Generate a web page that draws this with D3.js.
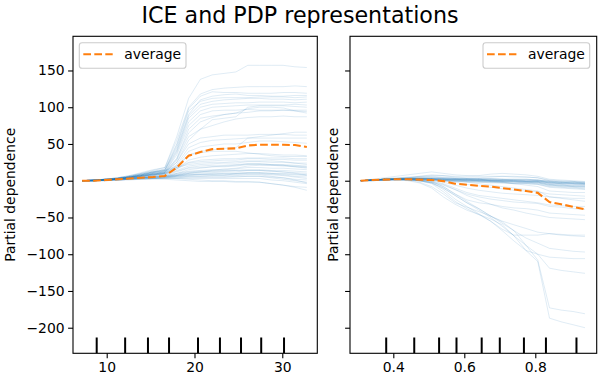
<!DOCTYPE html>
<html><head><meta charset="utf-8">
<script src="https://cdn.jsdelivr.net/npm/d3@7"></script>
<style>body{margin:0;background:#fff}svg{font-family:"DejaVu Sans",sans-serif}</style>
</head><body><svg id="c" width="600" height="380"></svg>
<script>
// ---------- data ----------
const tempGrid = [7.2,8.55,9.89,11.24,12.59,13.94,15.28,16.63,17.98,19.33,20.67,22.02,23.37,24.72,26.06,27.41,28.76,30.11,31.45,32.8];
const humGrid = [0.308,0.341,0.375,0.408,0.441,0.474,0.508,0.541,0.574,0.607,0.641,0.674,0.707,0.740,0.774,0.807,0.840,0.873,0.907,0.940];
const tempAverage = [0,0,1,2,3,4,5,6.5,18,34,39,43,43.5,44,48,49,49,49,48.5,46];
const humAverage = [0,1,1.5,2,2,1.5,1,-0.5,-4,-5.5,-7,-8,-10,-12,-14,-16.5,-29,-32,-35.5,-39];
const tempDeciles = [8.86,12.1,14.7,17.1,20.4,22.9,25.3,27.6,30.2];
const humDeciles = [0.38,0.459,0.529,0.578,0.649,0.700,0.768,0.830,0.916];
const tempTicks = [10,20,30];
const humTicks = [0.4,0.6,0.8];
const yTicks = [-200,-150,-100,-50,0,50,100,150];
const tempIce = [
[0,0,1,3,6,10,14,18,60,112,138,144,146,148,157,157,157,157,155,154],
[0,1,2,4,7,11,15,18,55,100,118,124,126,127,128,128,128,128,129,128],
[0,0,2,4,7,10,13,16,50,98,115,121,120,120,119,119,119,120,120,119],
[0,1,2,3,5,8,12,15,45,90,110,115,117,118,116,116,115,115,116,116],
[0,0,1,3,6,9,12,14,48,95,108,112,113,113,113,114,114,114,113,114],
[0,1,2,4,6,9,12,15,42,88,104,108,110,111,112,112,111,111,110,111],
[0,0,1,3,5,8,11,14,40,85,100,104,105,106,106,107,107,107,106,107],
[0,1,2,3,5,7,10,12,38,80,95,100,101,102,103,103,103,103,104,103],
[0,0,1,2,4,7,10,12,35,75,90,95,96,96,97,96,96,96,96,96],
[0,1,2,3,5,8,11,13,30,65,80,86,90,92,98,100,100,99,95,92],
[0,0,1,3,5,7,9,11,28,60,70,75,80,84,86,87,87,88,87,87],
[0,1,2,3,5,8,10,12,25,55,70,83,85,87,100,102,102,102,101,100],
[0,0,1,2,4,6,9,11,30,70,85,88,90,92,93,95,95,96,95,94],
[0,1,2,3,5,7,9,11,25,50,58,60,62,62,62,63,63,63,62,62],
[0,0,1,2,4,6,8,10,22,45,52,55,56,57,58,58,58,58,58,58],
[0,1,1,2,4,6,8,10,20,40,46,48,50,50,52,54,54,53,52,51],
[0,0,1,2,3,5,7,9,18,35,40,42,44,45,58,60,62,64,66,66],
[0,1,2,3,5,7,9,11,18,25,28,29,30,30,31,31,31,31,30,30],
[0,0,1,3,5,7,9,10,16,24,26,27,28,28,30,30,29,29,28,28],
[0,1,2,3,4,6,8,9,14,20,22,23,24,24,26,26,25,25,24,24],
[0,0,1,2,4,5,7,8,12,17,18,19,19,20,22,22,21,21,20,19],
[0,1,1,2,3,5,6,7,10,13,14,15,15,16,18,18,17,17,16,15],
[0,0,1,2,3,4,5,6,8,10,11,11,12,12,14,14,13,12,11,10],
[0,0,1,1,2,3,4,5,6,7,8,8,8,9,10,10,9,8,6,5],
[0,0,1,1,2,3,3,4,5,5,5,5,5,5,6,6,5,4,2,1],
[0,0,0,1,2,2,3,3,3,3,3,3,3,3,3,3,1,0,-2,-4],
[0,0,0,1,1,2,2,2,1,0,-1,-1,-1,-2,-2,-2,-4,-6,-9,-13],
[0,1,2,4,6,9,12,14,20,35,38,40,40,40,38,36,34,33,33,33],
[0,0,1,2,4,6,8,10,16,28,32,34,35,36,37,37,36,35,35,34],
[0,1,2,3,5,8,11,13,18,22,24,25,25,26,27,27,27,26,24,22],
[0,0,1,2,3,4,5,6,9,12,13,13,14,14,15,15,14,14,13,12],
[0,1,1,2,3,4,5,5,7,9,9,10,10,10,11,11,10,9,8,7],
[0,0,1,2,3,4,5,6,8,11,12,13,13,14,14,14,13,12,10,8],
[0,0,0,1,2,3,3,4,4,5,5,5,5,6,6,6,4,2,0,-2],
[0,1,1,2,3,4,4,5,7,10,12,14,16,17,20,21,21,20,19,18],
[0,0,1,2,3,4,6,7,10,15,17,19,20,21,23,23,22,22,21,20],
[0,0,1,1,2,3,3,4,5,6,6,7,7,7,8,8,6,4,1,-3],
[0,1,1,2,3,4,5,6,7,8,8,8,8,9,9,9,8,7,5,3],
[0,0,1,2,3,4,5,5,6,8,9,9,10,10,11,11,10,10,9,8],
[0,1,2,3,4,6,8,9,13,18,20,21,21,22,23,23,22,21,19,17],
[0,0,1,1,2,2,3,3,3,2,1,0,0,-1,-1,-2,-4,-6,-8,-9]
];
const humIce = [
[0,1,2,3,3,3,3,2,2,1,1,1,0,0,-1,-1,-3,-4,-4,-5],
[0,1,2,2,3,3,2,2,1,1,0,0,-1,-1,-2,-2,-5,-6,-7,-8],
[0,2,4,6,8,10,12,10,8,7,6,6,6,5,5,4,0,-2,-3,-4],
[0,1,3,4,5,6,7,7,6,6,7,9,10,9,8,6,2,1,0,-1],
[0,0,1,1,2,2,1,0,-1,-2,-2,-3,-3,-4,-4,-5,-8,-9,-10,-11],
[0,1,1,2,2,2,2,1,1,0,0,-1,-1,-1,-2,-2,-4,-5,-6,-6],
[0,1,2,3,3,4,4,4,3,3,3,3,2,2,2,1,-1,-2,-2,-3],
[0,0,1,2,2,2,1,1,0,0,-1,-1,-2,-2,-3,-3,-6,-7,-8,-9],
[0,1,2,2,3,3,3,3,2,2,2,2,2,1,1,1,0,-1,-1,-2],
[0,1,1,1,2,1,1,0,0,-1,-1,-2,-2,-3,-3,-4,-7,-8,-9,-10],
[0,1,2,3,4,5,5,4,3,2,2,1,1,1,0,0,-3,-4,-5,-6],
[0,0,1,1,1,1,0,0,-1,-1,-2,-2,-3,-4,-4,-5,-9,-10,-11,-12],
[0,1,2,3,4,4,4,3,3,3,4,5,6,6,5,4,1,0,-1,-2],
[0,1,2,2,2,2,2,1,1,1,0,0,0,-1,-1,-1,-3,-4,-4,-5],
[0,1,1,2,2,2,2,2,1,1,1,0,0,0,-1,-1,-2,-3,-3,-4],
[0,1,2,3,3,3,3,3,2,2,1,1,0,0,-1,-2,-5,-6,-7,-7],
[0,0,1,2,2,2,2,1,1,0,0,-1,-1,-2,-2,-3,-6,-7,-8,-8],
[0,1,2,3,4,6,8,7,5,4,3,3,2,2,2,1,-2,-3,-4,-4],
[0,1,1,2,2,3,3,2,2,1,1,1,1,0,0,0,-2,-2,-3,-3],
[0,1,2,2,3,3,3,2,2,2,2,1,1,1,1,0,-1,-2,-2,-3],
[0,1,2,3,3,2,1,-2,-6,-10,-13,-15,-17,-18,-19,-20,-22,-23,-24,-24],
[0,1,2,2,2,1,0,-4,-10,-16,-20,-22,-24,-26,-28,-30,-33,-34,-35,-35],
[0,1,1,2,2,1,-1,-8,-18,-26,-30,-32,-35,-37,-38,-40,-44,-45,-46,-47],
[0,1,2,3,3,3,2,1,0,-2,-4,-6,-8,-10,-12,-14,-22,-24,-26,-28],
[0,0,1,1,1,0,-2,-6,-12,-18,-22,-25,-27,-29,-30,-31,-35,-36,-38,-39],
[0,1,2,2,3,3,2,0,-2,-5,-7,-9,-11,-13,-14,-15,-18,-19,-20,-21],
[0,1,2,3,4,5,6,5,4,3,2,0,-2,-4,-6,-8,-14,-15,-16,-16],
[0,1,2,2,2,1,-1,-5,-12,-20,-26,-32,-37,-40,-44,-47,-50,-51,-52,-53],
[0,1,2,2,1,0,-4,-15,-28,-38,-46,-55,-66,-74,-74,-74,-72,-73,-74,-74],
[0,1,1,2,1,0,-3,-10,-20,-30,-38,-48,-55,-60,-65,-70,-72,-74,-75,-76],
[0,1,2,2,2,1,-2,-8,-18,-28,-38,-48,-58,-68,-78,-85,-92,-94,-96,-97],
[0,1,2,2,2,0,-3,-12,-25,-35,-45,-55,-68,-82,-95,-100,-104,-105,-106,-106],
[0,1,2,2,1,0,-3,-10,-20,-30,-40,-50,-62,-75,-88,-100,-119,-122,-124,-126],
[0,1,1,2,1,-2,-8,-18,-30,-36,-42,-48,-56,-68,-88,-108,-173,-176,-178,-181],
[0,1,1,1,0,-3,-10,-22,-32,-40,-46,-52,-60,-75,-95,-110,-187,-192,-196,-200]
];

// ---------- drawing ----------
const svg = d3.select("#c");
const yTop = 36.3, yBot = 353.3;
const y = d3.scaleLinear().domain([-234.8, 196.5]).range([yBot, yTop]);
const fs = 13.9;

svg.append("text").attr("x", 300).attr("y", 22.5).attr("text-anchor", "middle")
  .attr("font-size", 22.2).attr("fill", "#000").text("ICE and PDP representations");

function panel(id, x0, x1, domain, grid, ice, avg, deciles, ticks, fmt, showYLabels, legendRight) {
  const x = d3.scaleLinear().domain(domain).range([x0, x1]);
  const g = svg.append("g");
  g.append("clipPath").attr("id", "clip" + id).append("rect")
    .attr("x", x0).attr("y", yTop).attr("width", x1 - x0).attr("height", yBot - yTop);
  const line = d3.line().x((d, i) => x(grid[i])).y(d => y(d));
  const plot = g.append("g").attr("clip-path", `url(#clip${id})`);
  plot.selectAll("path.ice").data(ice).join("path").attr("class", "ice")
    .attr("d", line).attr("fill", "none").attr("stroke", "#1f77b4")
    .attr("stroke-opacity", 0.2).attr("stroke-width", 0.7);
  plot.append("path").datum(avg).attr("d", line).attr("fill", "none")
    .attr("stroke", "#ff7f0e").attr("stroke-width", 2.08).attr("stroke-dasharray", "7.7,3.3");
  plot.selectAll("line.dec").data(deciles).join("line").attr("class", "dec")
    .attr("x1", d => x(d)).attr("x2", d => x(d))
    .attr("y1", yBot).attr("y2", yBot - 0.05 * (yBot - yTop))
    .attr("stroke", "#000").attr("stroke-width", 2);

  const xa = g.append("g").attr("transform", `translate(0,${yBot})`)
    .call(d3.axisBottom(x).tickValues(ticks).tickFormat(fmt).tickSize(4.9).tickPadding(3.5));
  const ya = g.append("g").attr("transform", `translate(${x0},0)`)
    .call(d3.axisLeft(y).tickValues(yTicks).tickFormat(d => showYLabels ? String(d).replace("-", "\u2212") : "").tickSize(4.9).tickPadding(3.5));
  [xa, ya].forEach(a => {
    a.select(".domain").remove();
    a.selectAll("line").attr("stroke", "#000").attr("stroke-width", 1.1);
    a.selectAll("text").attr("font-size", fs).attr("fill", "#000").attr("font-family", "DejaVu Sans");
  });
  g.append("rect").attr("x", x0).attr("y", yTop).attr("width", x1 - x0).attr("height", yBot - yTop)
    .attr("fill", "none").attr("stroke", "#000").attr("stroke-width", 1.1);

  const lx = showYLabels ? 15 : x0 - 12.5;
  g.append("text").attr("transform", `translate(${lx},${(yTop + yBot) / 2}) rotate(-90)`)
    .attr("text-anchor", "middle").attr("font-size", fs).attr("fill", "#000").text("Partial dependence");

  const lw = 106.7, lh = 25.6;
  const bx = legendRight ? x1 - 7 - lw : x0 + 6.3, by = yTop + 6.4;
  const lg = g.append("g");
  lg.append("rect").attr("x", bx).attr("y", by).attr("width", lw).attr("height", lh).attr("rx", 2.8)
    .attr("fill", "#fff").attr("fill-opacity", 0.8).attr("stroke", "#cccccc").attr("stroke-width", 1.1);
  lg.append("line").attr("x1", bx + 4).attr("x2", bx + 33.4).attr("y1", by + 11.5).attr("y2", by + 11.5)
    .attr("stroke", "#ff7f0e").attr("stroke-width", 2.08).attr("stroke-dasharray", "7.7,3.3");
  lg.append("text").attr("x", bx + 45).attr("y", by + 16.6).attr("font-size", fs).attr("fill", "#000").text("average");
}

panel("a", 73, 317.3, [6.16, 33.99], tempGrid, tempIce, tempAverage, tempDeciles, tempTicks, d3.format("d"), true, false);
panel("b", 350, 596.7, [0.278, 0.973], humGrid, humIce, humAverage, humDeciles, humTicks, d3.format(".1f"), false, true);
</script></body></html>
